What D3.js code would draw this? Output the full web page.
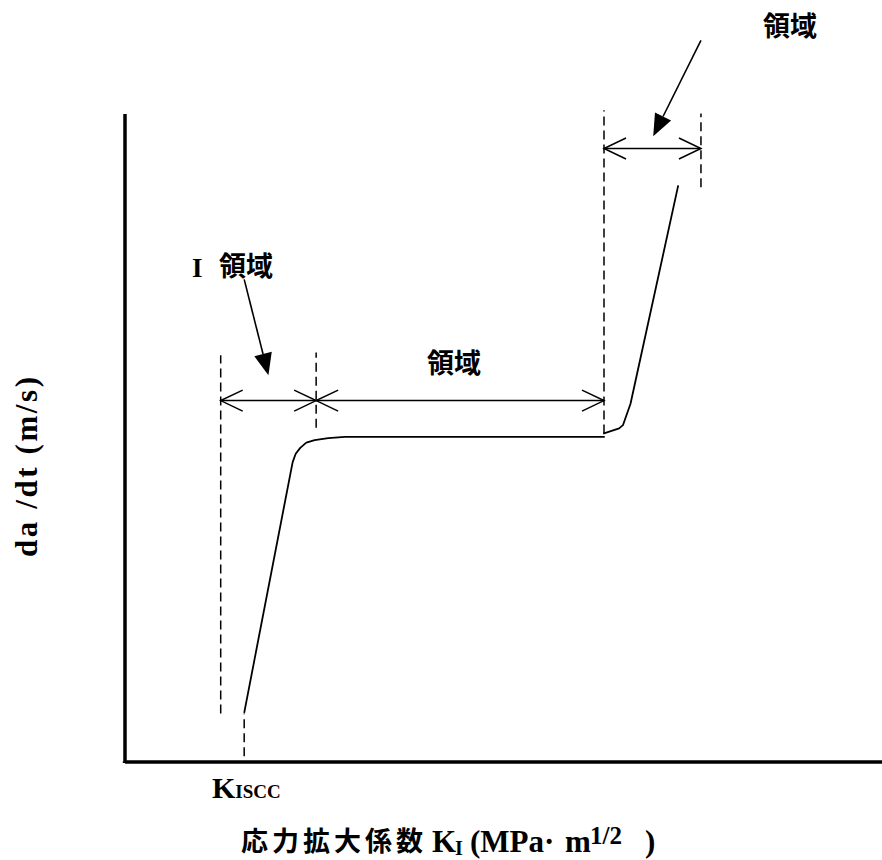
<!DOCTYPE html>
<html><head><meta charset="utf-8">
<script src="https://cdn.jsdelivr.net/npm/d3@7"></script>
<style>
html,body{margin:0;padding:0;background:#fff;}
svg{display:block;}
.cjk{font-family:"Noto Sans CJK JP","Noto Sans CJK SC",sans-serif;font-weight:700;}
.ser{font-family:"Liberation Serif","Times New Roman",serif;font-weight:700;}
</style></head>
<body><svg id="c" width="882" height="860"></svg>
<script>
// Schematic data (x: stress intensity K, y: log da/dt), arbitrary units 0-100
const stage12X = [15.8, 22.0, 22.2, 22.6, 23.2, 24.0, 25.1, 26.9, 29.1, 63.4];
const stage12Y = [7.5, 45.0, 46.2, 47.5, 48.4, 49.2, 49.6, 49.9, 50.1, 50.1];
const stage3X = [63.2, 65.3, 65.8, 66.8, 73.1];
const stage3Y = [50.6, 51.4, 51.9, 55.2, 88.9];
// Dashed boundaries: x, y0, y1
const boundX = [12.7, 15.8, 25.3, 63.3, 76.1];
const boundY0 = [7.4, 0.8, 51.5, 50.6, 88.6];
const boundY1 = [62.7, 7.4, 63.1, 100.5, 100.0];
// Region span arrows: x0, x1, y
const spanX0 = [12.7, 25.3, 63.3];
const spanX1 = [25.3, 63.3, 76.1];
const spanY = [55.7, 55.7, 94.6];
// Region labels
const regionLabels = ["I", "領域", "領域", "領域"];
// Pointer arrows: from -> to
const ptrX0 = [15.8, 76.1], ptrY0 = [74.4, 111.3];
const ptrX1 = [19.0, 69.8], ptrY1 = [59.6, 96.5];
const xTitleCJK = "応力拡大係数";
const xTitleParts = ["K", "I", "(MPa·", "m", "1/2", ")"];
const yTitle = "da /dt (m/s)";
const kLabel = ["K", "ISCC"];

const svg = d3.select("#c");
const x = d3.scaleLinear().domain([0, 100]).range([124.5, 882]);
const y = d3.scaleLinear().domain([0, 100]).range([761.5, 113.5]);

// Axes (no ticks)
svg.append("g").attr("transform", `translate(0,${y(0)})`)
  .call(d3.axisBottom(x).tickValues([]).tickSizeOuter(0))
  .select(".domain").attr("stroke", "#000").attr("stroke-width", 3.5);
svg.append("g").attr("transform", `translate(${x(0)},0)`)
  .call(d3.axisLeft(y).tickValues([]).tickSizeOuter(0))
  .select(".domain").attr("stroke", "#000").attr("stroke-width", 3.5);
svg.append("line").attr("x1", x(0)).attr("x2", x(0)).attr("y1", y(0)).attr("y2", y(0) + 1.5)
  .attr("stroke", "#000").attr("stroke-width", 3.5);

// Dashed boundaries
boundX.forEach((bx, i) => {
  svg.append("line").attr("x1", x(bx)).attr("x2", x(bx))
    .attr("y1", y(boundY0[i])).attr("y2", y(boundY1[i]))
    .attr("stroke", "#000").attr("stroke-width", 1.5).attr("stroke-dasharray", "9,5");
});

// Curves
svg.append("path").datum(stage12X.map((v, i) => [v, stage12Y[i]]))
  .attr("d", d3.line().x(d => x(d[0])).y(d => y(d[1])))
  .attr("fill", "none").attr("stroke", "#000").attr("stroke-width", 1.8)
  .attr("stroke-linejoin", "round");
svg.append("path").datum(stage3X.map((v, i) => [v, stage3Y[i]]))
  .attr("d", d3.line().x(d => x(d[0])).y(d => y(d[1])))
  .attr("fill", "none").attr("stroke", "#000").attr("stroke-width", 1.8)
  .attr("stroke-linejoin", "round");

// Span arrows with open heads
const headL = 22, headW = 10.5;
spanX0.forEach((sx, i) => {
  const x0 = x(sx), x1 = x(spanX1[i]), yy = y(spanY[i]);
  svg.append("line").attr("x1", x0).attr("x2", x1).attr("y1", yy).attr("y2", yy)
    .attr("stroke", "#000").attr("stroke-width", 1.5);
  svg.append("path").attr("d", `M${x0 + headL},${yy - headW}L${x0},${yy}L${x0 + headL},${yy + headW}`)
    .attr("fill", "none").attr("stroke", "#000").attr("stroke-width", 1.5);
  svg.append("path").attr("d", `M${x1 - headL},${yy - headW}L${x1},${yy}L${x1 - headL},${yy + headW}`)
    .attr("fill", "none").attr("stroke", "#000").attr("stroke-width", 1.5);
});

// Pointer arrows with filled heads
ptrX0.forEach((px, i) => {
  const ax = x(px), ay = y(ptrY0[i]), bx = x(ptrX1[i]), by = y(ptrY1[i]);
  const dx = bx - ax, dy = by - ay, L = Math.hypot(dx, dy);
  const ux = dx / L, uy = dy / L, nx = -uy, ny = ux;
  const hl = 22, hw = 9;
  const cx = bx - ux * hl, cy = by - uy * hl;
  svg.append("line").attr("x1", ax).attr("y1", ay).attr("x2", cx).attr("y2", cy)
    .attr("stroke", "#000").attr("stroke-width", 1.6);
  svg.append("path").attr("d", `M${bx},${by}L${cx + nx * hw},${cy + ny * hw}L${cx - nx * hw},${cy - ny * hw}Z`)
    .attr("fill", "#000");
});

// Region labels
svg.append("text").attr("class", "ser").attr("x", 192).attr("y", 277)
  .attr("font-size", 27).text(regionLabels[0]);
svg.append("text").attr("class", "cjk").attr("x", 219).attr("y", 276)
  .attr("font-size", 27).text(regionLabels[1]);
svg.append("text").attr("class", "cjk").attr("x", 427).attr("y", 373)
  .attr("font-size", 27).text(regionLabels[2]);
svg.append("text").attr("class", "cjk").attr("x", 763).attr("y", 36)
  .attr("font-size", 27).text(regionLabels[3]);

// K_ISCC label
const kt = svg.append("text").attr("class", "ser").attr("x", 212).attr("y", 798);
kt.append("tspan").attr("font-size", 30).text(kLabel[0]);
kt.append("tspan").attr("font-size", 19).text(kLabel[1]);

// X axis title
svg.append("text").attr("class", "cjk").attr("x", 241).attr("y", 851)
  .attr("font-size", 27).attr("letter-spacing", 4).text(xTitleCJK);
const xs = [432, 455, 470, 565, 590, 645];
const fs = [31, 20, 31, 31, 25, 31];
const ys = [852, 855, 852, 852, 844, 852];
xTitleParts.forEach((t, i) => {
  svg.append("text").attr("class", "ser").attr("x", xs[i]).attr("y", ys[i])
    .attr("font-size", fs[i]).text(t);
});

// Y axis title
svg.append("text").attr("class", "ser").attr("font-size", 31)
  .attr("text-anchor", "middle")
  .attr("transform", "translate(37,467) rotate(-90)")
  .attr("textLength", 180).attr("lengthAdjust", "spacing")
  .text(yTitle);
</script></body></html>
